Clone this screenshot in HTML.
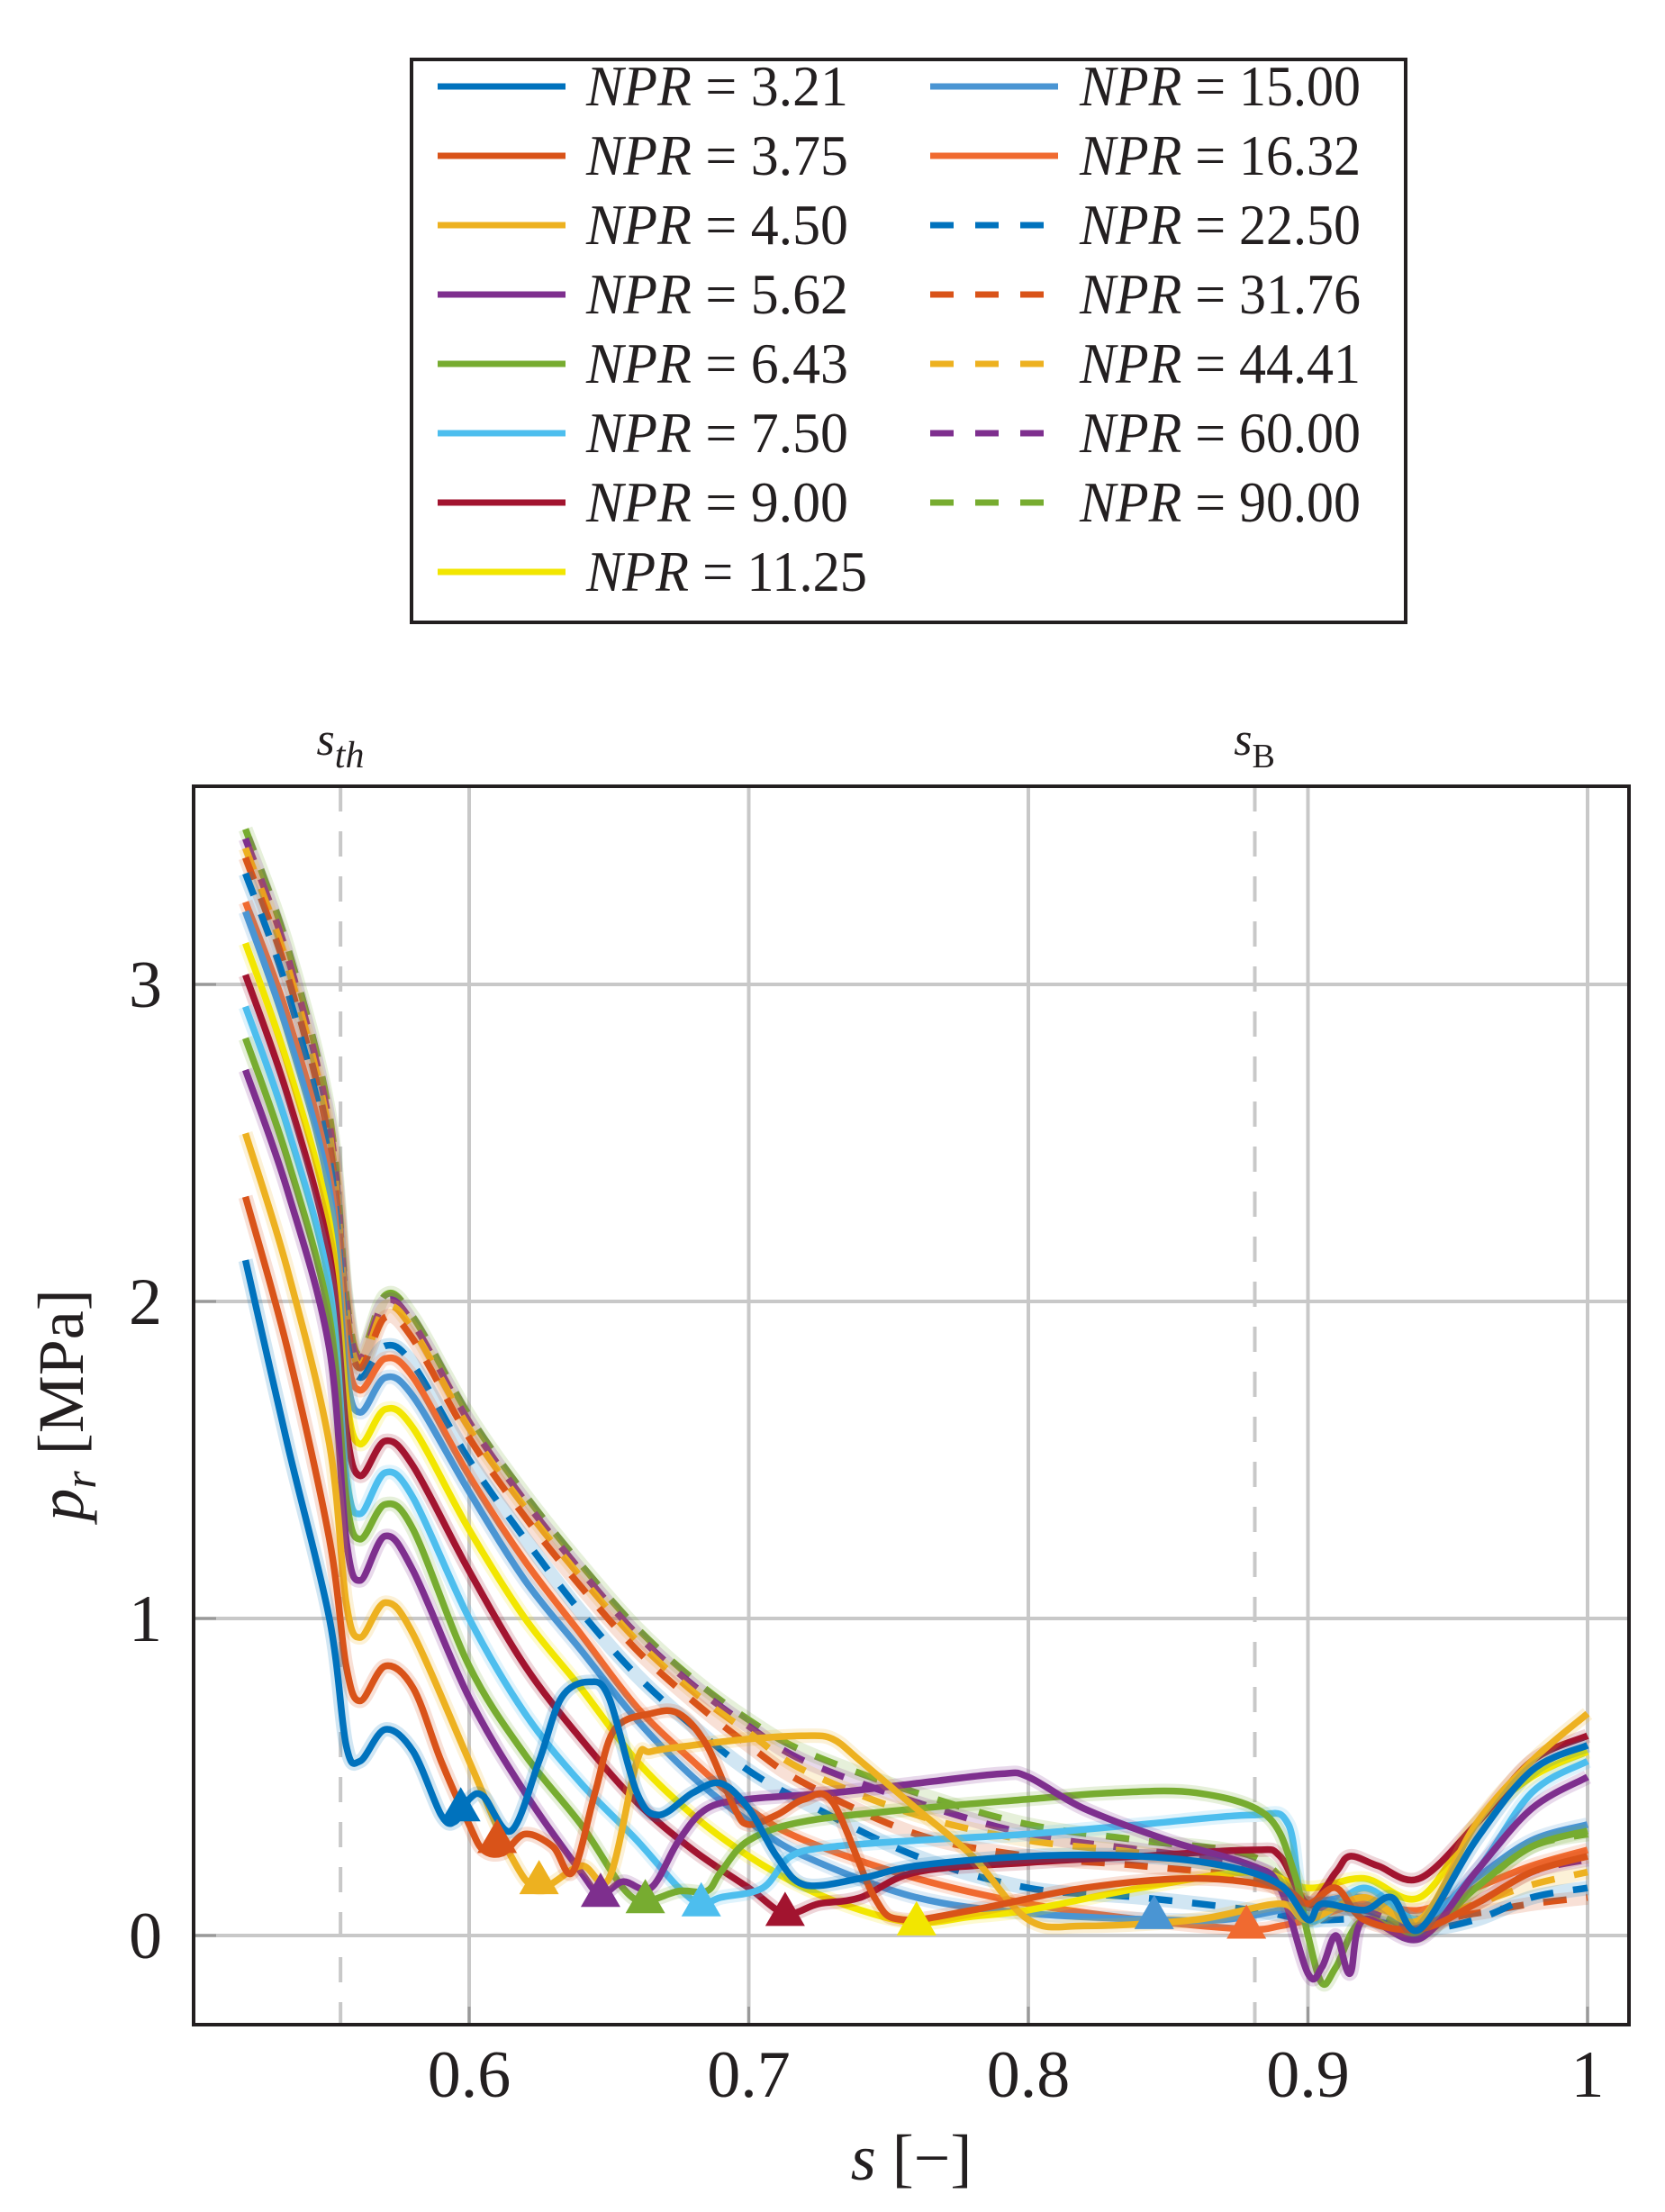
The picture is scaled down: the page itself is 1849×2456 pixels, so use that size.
<!DOCTYPE html>
<html><head><meta charset="utf-8"><style>
html,body{margin:0;padding:0;background:#fff}
svg{display:block}
text{font-family:"Liberation Serif","Times New Roman",serif;fill:#231f20}
</style></head><body>
<svg id="chart" width="1849" height="2456" viewBox="0 0 1849 2456" xmlns="http://www.w3.org/2000/svg">
<defs><clipPath id="plotclip"><rect x="215" y="873" width="1594" height="1375"/></clipPath></defs>
<g id="legend">
<rect x="457" y="66" width="1104" height="625" fill="#fff" stroke="#231f20" stroke-width="4"/>
</g>
<g id="grid"></g>
<g id="series" clip-path="url(#plotclip)"></g>
<rect x="215" y="873" width="1594" height="1375" fill="none" stroke="#231f20" stroke-width="4"/>
<g id="labels">
<text x="378" y="838" font-size="52" font-style="italic" text-anchor="middle" font-family="Liberation Serif, serif">s<tspan font-size="42" dy="14">th</tspan></text>
<text x="1393" y="838" font-size="52" font-style="italic" text-anchor="middle" font-family="Liberation Serif, serif">s<tspan font-size="38" font-style="normal" dy="14">B</tspan></text>
<text x="1012" y="2420" font-size="72" text-anchor="middle" font-family="Liberation Serif, serif"><tspan font-style="italic">s</tspan> [−]</text>
<text transform="translate(92,1560) rotate(-90)" font-size="72" text-anchor="middle" font-family="Liberation Serif, serif"><tspan font-style="italic">p</tspan><tspan font-style="italic" font-size="50" dy="14">r</tspan><tspan dy="-14"> [MPa]</tspan></text>
</g>
</svg>
<script>
const NS='http://www.w3.org/2000/svg';
const xTicks=[0.6,0.7,0.8,0.9,1];
const xTickLabels=['0.6','0.7','0.8','0.9','1'];
const yTicks=[0,1,2,3];
const yTickLabels=['0','1','2','3'];
const refLines=[0.554,0.881];
const names=['3.21','3.75','4.50','5.62','6.43','7.50','9.00','11.25','15.00','16.32','22.50','31.76','44.41','60.00','90.00'];
const colors=['#0072BD','#D95319','#EDB120','#7E2F8E','#77AC30','#4DBEEE','#A2142F','#F2E600','#4A95D3','#F06A30','#0072BD','#D95319','#EDB120','#7E2F8E','#77AC30'];
const dashed=[0,0,0,0,0,0,0,0,0,0,1,1,1,1,1];
const s0=[0.52,0.535,0.55,0.556,0.561,0.57,0.58,0.59,0.595,0.60,0.605,0.615,0.625,0.633,0.643,0.65,0.66,0.668,0.68,0.69,0.70,0.71,0.72,0.74,0.76,0.80,0.84,0.87,0.89,0.90,0.905,0.92,0.93,0.94,0.96,0.98,1.0];
const p0=[2.13,1.55,1.0,0.6,0.55,0.65,0.58,0.38,0.36,0.43,0.44,0.33,0.55,0.75,0.80,0.75,0.45,0.38,0.45,0.48,0.40,0.25,0.16,0.18,0.22,0.25,0.25,0.22,0.16,0.05,0.10,0.08,0.12,0.02,0.30,0.52,0.60];
const s1=[0.52,0.535,0.55,0.556,0.561,0.57,0.58,0.59,0.60,0.605,0.612,0.62,0.63,0.637,0.645,0.652,0.665,0.675,0.685,0.695,0.70,0.71,0.72,0.73,0.745,0.755,0.78,0.82,0.86,0.89,0.90,0.91,0.92,0.94,0.96,0.98,1.0];
const p1=[2.33,1.85,1.25,0.85,0.74,0.85,0.78,0.55,0.35,0.27,0.26,0.32,0.28,0.20,0.45,0.65,0.70,0.70,0.60,0.40,0.35,0.38,0.43,0.42,0.12,0.05,0.08,0.15,0.18,0.15,0.10,0.15,0.05,0.02,0.10,0.20,0.25];
const s2=[0.52,0.535,0.55,0.556,0.561,0.57,0.58,0.60,0.615,0.625,0.64,0.65,0.66,0.665,0.68,0.70,0.72,0.73,0.74,0.76,0.78,0.80,0.82,0.86,0.89,0.90,0.92,0.94,0.96,0.98,1.0];
const p2=[2.53,2.1,1.55,1.05,0.94,1.05,0.95,0.55,0.25,0.15,0.22,0.18,0.55,0.58,0.60,0.62,0.63,0.62,0.55,0.40,0.25,0.05,0.03,0.05,0.10,0.05,0.12,0.05,0.35,0.55,0.70];
const s3=[0.52,0.535,0.55,0.556,0.561,0.57,0.58,0.60,0.62,0.64,0.647,0.655,0.665,0.675,0.685,0.70,0.73,0.76,0.79,0.80,0.82,0.85,0.88,0.89,0.90,0.905,0.91,0.915,0.92,0.94,0.96,0.98,1.0];
const p3=[2.73,2.35,1.85,1.25,1.12,1.26,1.15,0.75,0.45,0.20,0.13,0.17,0.15,0.30,0.40,0.43,0.45,0.48,0.51,0.50,0.40,0.30,0.22,0.15,-0.12,-0.10,0.0,-0.12,0.05,-0.01,0.20,0.40,0.50];
const s4=[0.52,0.535,0.55,0.556,0.561,0.57,0.58,0.60,0.62,0.64,0.655,0.663,0.675,0.685,0.69,0.70,0.72,0.76,0.80,0.83,0.86,0.885,0.895,0.90,0.905,0.91,0.92,0.94,0.96,0.98,1.0];
const p4=[2.83,2.45,1.95,1.38,1.25,1.36,1.28,0.85,0.57,0.35,0.15,0.11,0.14,0.14,0.20,0.30,0.36,0.40,0.43,0.45,0.45,0.38,0.20,0.0,-0.15,-0.10,0.05,0.0,0.15,0.28,0.33];
const s5=[0.52,0.535,0.55,0.556,0.561,0.57,0.58,0.60,0.62,0.64,0.66,0.675,0.683,0.69,0.705,0.715,0.73,0.76,0.80,0.84,0.88,0.893,0.90,0.92,0.94,0.96,0.98,1.0];
const p5=[2.93,2.55,2.05,1.45,1.33,1.46,1.38,1.0,0.70,0.48,0.30,0.15,0.10,0.12,0.15,0.25,0.28,0.30,0.32,0.35,0.38,0.35,0.05,0.15,0.05,0.20,0.45,0.55];
const s6=[0.52,0.535,0.55,0.556,0.561,0.57,0.58,0.60,0.62,0.64,0.66,0.68,0.70,0.713,0.725,0.74,0.76,0.80,0.84,0.88,0.89,0.90,0.91,0.915,0.925,0.94,0.96,0.98,1.0];
const p6=[3.03,2.65,2.15,1.60,1.45,1.56,1.48,1.15,0.85,0.62,0.42,0.27,0.15,0.07,0.10,0.12,0.20,0.23,0.25,0.27,0.25,0.10,0.20,0.25,0.22,0.18,0.35,0.55,0.63];
const s7=[0.52,0.535,0.55,0.556,0.561,0.57,0.58,0.60,0.62,0.64,0.66,0.68,0.70,0.72,0.74,0.76,0.78,0.80,0.84,0.88,0.90,0.92,0.94,0.96,0.98,1.0];
const p7=[3.13,2.75,2.25,1.70,1.55,1.66,1.60,1.28,1.00,0.78,0.55,0.38,0.25,0.15,0.08,0.04,0.06,0.08,0.15,0.20,0.15,0.18,0.12,0.35,0.50,0.58];
const s8=[0.52,0.535,0.55,0.556,0.561,0.57,0.58,0.60,0.62,0.64,0.66,0.68,0.70,0.72,0.76,0.80,0.845,0.87,0.89,0.90,0.92,0.94,0.96,0.98,1.0];
const p8=[3.23,2.85,2.35,1.78,1.65,1.76,1.70,1.40,1.12,0.90,0.68,0.50,0.36,0.25,0.12,0.07,0.05,0.05,0.08,0.10,0.12,0.05,0.18,0.30,0.35];
const s9=[0.52,0.535,0.55,0.556,0.561,0.57,0.58,0.60,0.62,0.64,0.66,0.68,0.70,0.72,0.76,0.80,0.84,0.878,0.89,0.90,0.92,0.94,0.96,0.98,1.0];
const p9=[3.26,2.9,2.4,1.85,1.72,1.82,1.76,1.45,1.18,0.95,0.72,0.55,0.40,0.30,0.18,0.10,0.05,0.02,0.03,0.05,0.10,0.08,0.15,0.22,0.27];
const sD=[0.52,0.535,0.55,0.556,0.561,0.57,0.58,0.60,0.62,0.64,0.66,0.68,0.70,0.72,0.76,0.80,0.84,0.88,0.90,0.92,0.94,0.96,0.98,1.0];
const p10=[3.35,2.98,2.45,1.90,1.76,1.86,1.80,1.50,1.25,1.02,0.82,0.66,0.52,0.42,0.25,0.15,0.12,0.08,0.05,0.05,0.02,0.05,0.12,0.15];
const p11=[3.40,3.03,2.50,1.96,1.79,1.95,1.88,1.57,1.32,1.10,0.90,0.74,0.60,0.48,0.32,0.25,0.22,0.18,0.10,0.12,0.05,0.07,0.10,0.12];
const p12=[3.43,3.06,2.53,1.98,1.80,1.98,1.91,1.60,1.35,1.13,0.93,0.77,0.64,0.52,0.38,0.30,0.26,0.20,0.12,0.10,0.05,0.10,0.16,0.20];
const p13=[3.46,3.09,2.56,2.00,1.82,2.00,1.93,1.62,1.37,1.15,0.95,0.79,0.66,0.55,0.42,0.32,0.27,0.22,0.10,0.08,0.03,0.10,0.20,0.24];
const p14=[3.49,3.12,2.59,2.02,1.83,2.02,1.95,1.64,1.39,1.17,0.97,0.81,0.68,0.58,0.45,0.35,0.30,0.25,0.10,0.08,0.03,0.15,0.28,0.32];
const sSeries=[s0,s1,s2,s3,s4,s5,s6,s7,s8,s9,sD,sD,sD,sD,sD];
const pSeries=[p0,p1,p2,p3,p4,p5,p6,p7,p8,p9,p10,p11,p12,p13,p14];
const markS=[0.597,0.61,0.625,0.647,0.663,0.683,0.713,0.760,0.845,0.878];
const markP=[0.40,0.30,0.17,0.13,0.11,0.10,0.07,0.04,0.06,0.03];

const X=s=>521+(s-0.6)*3105;
const Y=p=>2149-p*352;
const svg=document.getElementById('chart');
function mk(tag,attrs,parent){const e=document.createElementNS(NS,tag);for(const k in attrs)e.setAttribute(k,attrs[k]);parent.appendChild(e);return e;}
const grid=document.getElementById('grid');
xTicks.forEach((t,i)=>{
  const l=mk('line',{x1:X(t),x2:X(t),y1:873,y2:2248,stroke:'#c8c8c8','stroke-width':4},grid);
  
  
  const tk=mk('line',{x1:X(t),x2:X(t),y1:2248,y2:2228,stroke:'#999','stroke-width':3},grid);
  
  
  const tx=mk('text',{x:X(t),y:2328,'font-size':74,'text-anchor':'middle','font-family':'Liberation Serif, serif'},grid);
  tx.textContent=xTickLabels[i];
  
  
});
yTicks.forEach((t,i)=>{
  const l=mk('line',{x1:215,x2:1809,y1:Y(t),y2:Y(t),stroke:'#c8c8c8','stroke-width':4},grid);
  
  
  const tk=mk('line',{x1:215,x2:240,y1:Y(t),y2:Y(t),stroke:'#999','stroke-width':3},grid);
  
  
  const tx=mk('text',{x:180,y:Y(t)+25,'font-size':74,'text-anchor':'end','font-family':'Liberation Serif, serif'},grid);
  tx.textContent=yTickLabels[i];
  
  
});
refLines.forEach(r=>{
  const l=mk('line',{x1:X(r),x2:X(r),y1:873,y2:2248,stroke:'#c8c8c8','stroke-width':4,'stroke-dasharray':'28,22'},grid);
  
  
});
function pathFor(ss,ps){
  const pts=ss.map((s,i)=>[X(s),Y(ps[i])]);
  let d='M'+pts[0][0].toFixed(1)+','+pts[0][1].toFixed(1);
  for(let i=0;i<pts.length-1;i++){
    const p0=pts[Math.max(i-1,0)],p1=pts[i],p2=pts[i+1],p3=pts[Math.min(i+2,pts.length-1)];
    const c1=[p1[0]+(p2[0]-p0[0])/6,p1[1]+(p2[1]-p0[1])/6];
    const c2=[p2[0]-(p3[0]-p1[0])/6,p2[1]-(p3[1]-p1[1])/6];
    d+=' C'+c1[0].toFixed(1)+','+c1[1].toFixed(1)+' '+c2[0].toFixed(1)+','+c2[1].toFixed(1)+' '+p2[0].toFixed(1)+','+p2[1].toFixed(1);
  }
  return d;
}
const sg=document.getElementById('series');
for(let k=pSeries.length-1;k>=0;k--){
  const d=pathFor(sSeries[k],pSeries[k]);
  const band=mk('path',{d:d,fill:'none',stroke:colors[k],'stroke-width':16,'stroke-opacity':0.18,'stroke-linejoin':'round'},sg);
  
  
  const a={d:d,fill:'none',stroke:colors[k],'stroke-width':7.5,'stroke-linejoin':'round'};
  if(dashed[k])a['stroke-dasharray']='26,22';
  const p=mk('path',a,sg);
  
  
}
markS.forEach((s,k)=>{
  const x=X(s),y=Y(markP[k]);
  const t=mk('polygon',{points:(x-22)+','+(y+14)+' '+(x+22)+','+(y+14)+' '+x+','+(y-24),fill:colors[k]},sg);
  
  
});
const lg=document.getElementById('legend');
names.forEach((n,k)=>{
  const col=k<8?0:1,row=k<8?k:k-8;
  const y=96+row*77;
  const lx=col?1033:486,tx=col?1199:651;
  const a={x1:lx,x2:lx+(dashed[k]?126:142),y1:y,y2:y,stroke:colors[k],'stroke-width':7};
  if(dashed[k])a['stroke-dasharray']='26,24';
  const l=mk('line',a,lg);
  
  
  const t=mk('text',{x:tx,y:y+21,'font-size':64,'font-family':'Liberation Serif, serif',textLength:n.length>4?312:291,lengthAdjust:'spacingAndGlyphs'},lg);
  t.innerHTML='<tspan font-style="italic">NPR</tspan> = '+n;
  
  
});
</script>
</body></html>
